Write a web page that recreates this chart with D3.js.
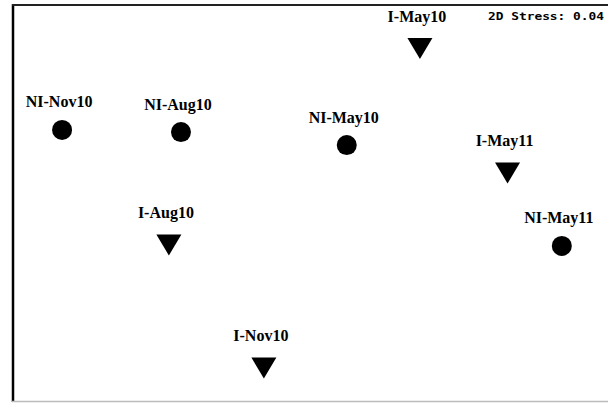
<!DOCTYPE html>
<html>
  <head>
    <meta charset="UTF-8" />
    <title>NMDS</title>
    <style>
      body { margin: 0; background: #fff; }
      .lbl { font-family: 'Liberation Serif', serif; font-size: 16px; font-weight: bold; }
    </style>
    <script src="https://d3js.org/d3.v7.min.js"></script>
  </head>
  <body>
    <div id="viz"></div>
    <script>
      // NMDS ordination scores
      const samples = ['NI-Nov10', 'NI-Aug10', 'NI-May10', 'NI-May11', 'I-May10', 'I-May11', 'I-Aug10', 'I-Nov10'];
      const groups = ['NI', 'NI', 'NI', 'NI', 'I', 'I', 'I', 'I'];
      const mds1 = [-0.837, -0.434, 0.128, 0.857, 0.376, 0.673, -0.475, -0.153];
      const mds2 = [0.371, 0.36, 0.294, -0.218, 0.784, 0.152, -0.213, -0.838];
      const stress = '2D Stress: 0.04';

      const width = 608, height = 403;
      const svg = d3.select('#viz').append('svg')
        .attr('width', width).attr('height', height);

      const x = d3.scaleLinear().domain([-1, 1]).range([14, 604]);
      const y = d3.scaleLinear().domain([-1, 1]).range([400, 6]);

      // frame
      svg.append('line').attr('x1', 13).attr('x2', 13).attr('y1', 4).attr('y2', 402)
        .attr('stroke', '#000').attr('stroke-width', 2.5);
      svg.append('line').attr('x1', 12).attr('x2', width).attr('y1', 5).attr('y2', 5)
        .attr('stroke', '#222').attr('stroke-width', 2);
      svg.append('line').attr('x1', 12).attr('x2', width).attr('y1', 401.5).attr('y2', 401.5)
        .attr('stroke', '#bbb').attr('stroke-width', 1.5);

      const data = samples.map((s, i) => ({ name: s, g: groups[i], x: mds1[i], y: mds2[i] }));

      const tri = 'M-12.5,-10.5 L12.5,-10.5 L0,10.5 Z';
      const pts = svg.append('g').selectAll('g').data(data).join('g')
        .attr('transform', d => `translate(${x(d.x)},${y(d.y)})`);

      pts.filter(d => d.g === 'NI').append('circle').attr('r', 10).attr('fill', '#000');
      pts.filter(d => d.g === 'I').append('path').attr('d', tri).attr('fill', '#000');

      pts.append('text').attr('class', 'lbl')
        .attr('text-anchor', 'middle')
        .attr('x', -3)
        .attr('y', d => d.g === 'I' ? -27 : -22.5)
        .text(d => d.name);

      svg.append('text')
        .attr('x', 488).attr('y', 20)
        .attr('textLength', 116)
        .attr('lengthAdjust', 'spacingAndGlyphs')
        .attr('font-family', 'DejaVu Sans Mono, monospace')
        .attr('font-weight', 'bold')
        .attr('font-size', 11)
        .text(stress);
    </script>
  </body>
</html>
